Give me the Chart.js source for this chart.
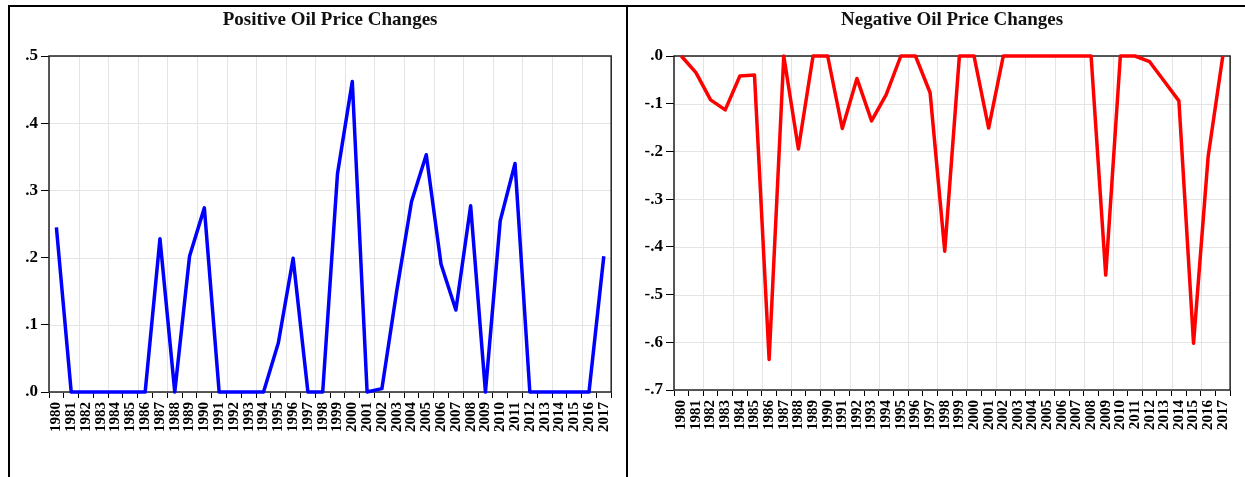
<!DOCTYPE html>
<html><head><meta charset="utf-8">
<script src="https://cdn.jsdelivr.net/npm/chart.js@4"></script>
<style>
html,body{margin:0;padding:0;background:#fff;width:1245px;height:477px;overflow:hidden;position:relative}
.frame{position:absolute;left:8px;top:5px;width:1250px;height:480px;border-top:2px solid #000;border-left:2px solid #000}
.divider{position:absolute;left:626px;top:5px;width:2px;height:480px;background:#000}
canvas{position:absolute;top:8px}
#c1{left:10px}
#c2{left:629px}
</style></head><body>
<div class="frame"></div><div class="divider"></div>
<canvas id="c1" width="616" height="469"></canvas>
<canvas id="c2" width="616" height="469"></canvas>
<script>
const years = ['1980','1981','1982','1983','1984','1985','1986','1987','1988','1989',
  '1990','1991','1992','1993','1994','1995','1996','1997','1998','1999',
  '2000','2001','2002','2003','2004','2005','2006','2007','2008','2009',
  '2010','2011','2012','2013','2014','2015','2016','2017'];
const positiveChanges = [0.245,0,0,0,0,0,0,0.228,0,0.202,
  0.274,0,0,0,0,0.073,0.199,0,0,0.325,
  0.462,0,0.005,0.150,0.283,0.353,0.190,0.122,0.277,0,
  0.255,0.340,0,0,0,0,0,0.202];
const negativeChanges = [0,-0.035,-0.092,-0.113,-0.042,-0.040,-0.636,0,-0.195,0,
  0,-0.152,-0.047,-0.136,-0.081,0,0,-0.077,-0.409,0,
  0,-0.151,0,0,0,0,0,0,0,-0.459,
  0,0,-0.012,-0.053,-0.094,-0.602,-0.210,0];
const titles = ['Positive Oil Price Changes','Negative Oil Price Changes'];

const FONT = 'Liberation Serif, Times New Roman, serif';
const GRID = '#e4e4e4';
const plotFrame = {
  id:'plotFrame',
  beforeDatasetsDraw(chart){
    const a = chart.chartArea, ctx = chart.ctx;
    ctx.save();
    ctx.fillStyle = '#fff';
    ctx.fillRect(a.left, a.top, a.right-a.left, a.bottom-a.top);
    ctx.strokeStyle = GRID;
    ctx.lineWidth = 1;
    ctx.beginPath();
    const ys = chart.scales.y;
    ys.ticks.forEach(t => {
      const p = Math.round(ys.getPixelForValue(t.value)) + 0.5;
      ctx.moveTo(a.left, p); ctx.lineTo(a.right, p);
    });
    const xg = chart.scales.xg;
    xg.ticks.forEach(t => {
      const p = Math.round(xg.getPixelForValue(t.value)) + 0.5;
      ctx.moveTo(p, a.top); ctx.lineTo(p, a.bottom);
    });
    ctx.stroke();
    ctx.strokeStyle = '#222';
    ctx.lineWidth = 1.5;
    ctx.strokeRect(a.left, a.top, a.right-a.left, a.bottom-a.top);
    ctx.restore();
  }
};
function fmt(v){
  return (Math.round(v*10)/10).toFixed(1).replace('0.', '.');
}
function make(id, title, data, color, ymin, ymax, yw, xh){
  new Chart(document.getElementById(id), {
    type:'line',
    data:{labels:years, datasets:[{data:data, borderColor:color, borderWidth:3.5,
      pointRadius:0, tension:0, fill:false, clip:false, borderJoinStyle:'round', xAxisID:'x', yAxisID:'y'}]},
    plugins:[plotFrame],
    options:{
      responsive:false, animation:false, devicePixelRatio:1,
      layout:{padding:{left:0,right:14,top:0,bottom:0}},
      plugins:{
        legend:{display:false}, tooltip:{enabled:false},
        title:{display:true, text:title, fullSize:false, color:'#111',
          font:{family:FONT, size:19, weight:'bold'}, padding:{top:1,bottom:24.2}}
      },
      scales:{
        x:{
          offset:true,
          afterFit(s){ s.height = xh; },
          grid:{offset:true, drawOnChartArea:false, color:'#000',
            tickColor:'#000', tickLength:6, lineWidth:1, tickWidth:1},
          border:{display:false},
          ticks:{autoSkip:false, minRotation:90, maxRotation:90, padding:4, color:'#000',
            font:{family:FONT, size:15, weight:'bold'}}
        },
        xg:{
          type:'linear', position:'bottom', min:0, max:years.length,
          afterFit(s){ s.height = 0; },
          grid:{display:false, drawOnChartArea:false, drawTicks:false},
          border:{display:false},
          ticks:{display:false, stepSize:2}
        },
        y:{
          min:ymin, max:ymax,
          afterFit(s){ s.width = yw; },
          grid:{drawOnChartArea:false, color:GRID, tickColor:'#000', tickLength:8, lineWidth:1},
          border:{display:false},
          ticks:{stepSize:0.1, padding:3, color:'#000', callback:(v)=>fmt(v),
            font:{family:FONT, size:17, weight:'bold'}}
        }
      }
    }
  });
}
make('c1', titles[0], positiveChanges, '#0000ff', 0, 0.5, 39, 85);
make('c2', titles[1], negativeChanges, '#ff0000', -0.7, 0, 45, 87);
</script>
</body></html>
